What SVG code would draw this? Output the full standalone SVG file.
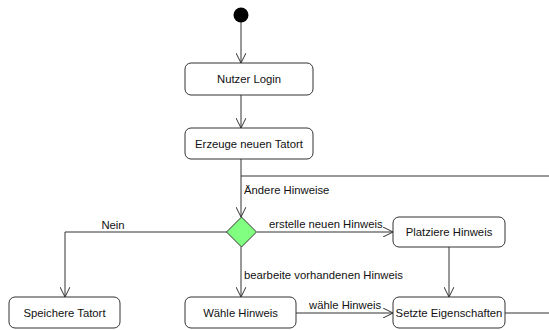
<svg xmlns="http://www.w3.org/2000/svg" width="549" height="330" viewBox="0 0 549 330">
<style>
.box{fill:#fff;stroke:#333;stroke-width:1}
.t{font-family:"Liberation Sans",Arial,sans-serif;font-size:11.3px;fill:#111}
.c{text-anchor:middle}
.ln{fill:none;stroke:#333;stroke-width:1}
</style>
<defs>
<marker id="a" viewBox="0 0 10 10" refX="10" refY="5" markerWidth="10" markerHeight="10" markerUnits="userSpaceOnUse" orient="auto">
<path d="M0,0 L10,5 L0,10" fill="none" stroke="#333" stroke-width="1"/>
</marker>
</defs>
<g id="connectors">
<line class="ln" x1="241" y1="22" x2="241" y2="63" marker-end="url(#a)"/>
<line class="ln" x1="241" y1="95" x2="241" y2="128" marker-end="url(#a)"/>
<line class="ln" x1="241" y1="159" x2="241" y2="217" marker-end="url(#a)"/>
<polyline class="ln" points="241,176 549,176"/>
<text class="t" x="244" y="194">Ändere Hinweise</text>
<polyline class="ln" points="227,232 65,232 65,297" marker-end="url(#a)"/>
<text class="t c" x="113" y="229">Nein</text>
<line class="ln" x1="257" y1="232" x2="393" y2="232" marker-end="url(#a)"/>
<text class="t" x="269" y="228">erstelle neuen Hinweis</text>
<line class="ln" x1="241" y1="247" x2="241" y2="297" marker-end="url(#a)"/>
<text class="t" x="244" y="279">bearbeite vorhandenen Hinweis</text>
<line class="ln" x1="449" y1="247" x2="449" y2="297" marker-end="url(#a)"/>
<line class="ln" x1="296" y1="313" x2="393" y2="313" marker-end="url(#a)"/>
<text class="t" x="309" y="309">wähle Hinweis</text>
<line class="ln" x1="505" y1="313" x2="549" y2="313"/>
</g>
<g id="start"><circle cx="241" cy="15" r="7.5" fill="#000"/></g>
<g id="login"><rect class="box" x="185" y="63" width="128" height="32" rx="6"/><text class="t c" x="249" y="83">Nutzer Login</text></g>
<g id="erzeuge"><rect class="box" x="185" y="128" width="128" height="31" rx="6"/><text class="t c" x="249" y="147.5">Erzeuge neuen Tatort</text></g>
<g id="decision"><polygon points="241.5,217 256.5,232 241.5,247 226.5,232" fill="#80ff80" stroke="#333" stroke-width="1"/></g>
<g id="platziere"><rect class="box" x="393" y="217" width="112" height="30" rx="6"/><text class="t c" x="449" y="236">Platziere Hinweis</text></g>
<g id="speichere"><rect class="box" x="9" y="297" width="111" height="31" rx="6"/><text class="t c" x="64.5" y="316.5">Speichere Tatort</text></g>
<g id="waehle"><rect class="box" x="185" y="297" width="111" height="31" rx="6"/><text class="t c" x="240.5" y="316.5">Wähle Hinweis</text></g>
<g id="setzte"><rect class="box" x="393" y="297" width="112" height="31" rx="6"/><text class="t c" x="449" y="316.5">Setzte Eigenschaften</text></g>
</svg>
